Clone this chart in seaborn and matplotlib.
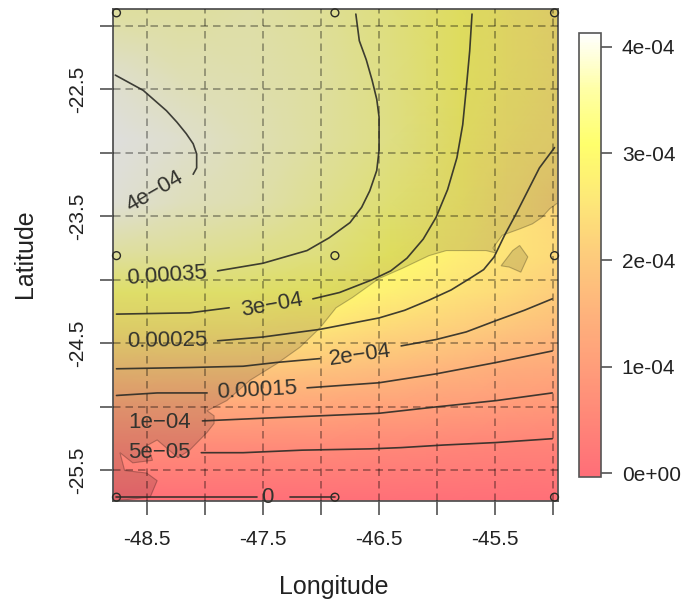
import numpy as np
import pandas as pd
import matplotlib
matplotlib.use('Agg')
import matplotlib.pyplot as plt
import seaborn as sns

# field, in units of 1e-5
lons = [-48.79, -48.2, -47.6, -47.0, -46.4, -45.8, -45.4, -44.96]
lats = [-21.87, -22.4, -22.9, -23.4, -23.8, -24.1, -24.4, -24.7, -25.0, -25.3, -25.74]
row_2187 = [37, 37, 37.5, 36.5, 34, 30.5, 28, 26]
row_2240 = [40, 38.5, 38, 37, 34.5, 30.5, 28, 26]
row_2290 = [41.5, 40, 38.5, 37, 34.7, 29.5, 27, 25.2]
row_2340 = [40.5, 39, 38, 36, 33, 28.5, 25.3, 22.5]
row_2380 = [37, 36.5, 35.5, 34, 30.7, 27, 25, 23]
row_2410 = [32, 32, 32, 30.5, 27.5, 24.5, 23, 20.7]
row_2440 = [26, 26, 25.7, 25, 22.5, 20.8, 19, 17]
row_2470 = [20, 20, 19.8, 18.5, 17, 15, 13.5, 12.6]
row_2500 = [12.5, 12.5, 12.3, 12, 11, 10, 9.3, 8.7]
row_2530 = [6.5, 6.5, 6.3, 6.2, 5.7, 5, 4.5, 4.3]
row_2574 = [0, 0, 0, 0, 0, 0, 0, 0]

field = np.array([row_2187, row_2240, row_2290, row_2340, row_2380, row_2410,
                  row_2440, row_2470, row_2500, row_2530, row_2574]) * 1e-5

# stations
station_lon = [-48.76, -46.88, -44.99] * 3
station_lat = [-21.9] * 3 + [-23.81] * 3 + [-25.71] * 3

# land outline
coast_lon = [-44.97, -45.03, -45.10, -45.18, -45.29, -45.44, -45.52, -45.49, -45.58, -45.92,
             -46.07, -46.30, -46.50, -46.73, -46.87, -47.01, -47.18, -47.38, -47.61, -47.81,
             -47.98, -47.92, -47.92, -47.98, -48.13, -48.23, -48.41, -48.53, -48.47, -48.45,
             -48.62, -48.73, -48.69, -48.50, -48.41, -48.47, -48.79, -48.79, -44.96, -44.96]
coast_lat = [-23.40, -23.44, -23.51, -23.56, -23.60, -23.65, -23.75, -23.79, -23.77, -23.77,
             -23.81, -23.91, -23.99, -24.14, -24.22, -24.38, -24.53, -24.66, -24.79, -24.95,
             -25.03, -25.07, -25.13, -25.20, -25.34, -25.40, -25.26, -25.32, -25.36, -25.42,
             -25.44, -25.36, -25.50, -25.52, -25.58, -25.71, -25.74, -21.87, -21.87, -23.40]
island_lon = [-45.45, -45.35, -45.29, -45.22, -45.28, -45.38]
island_lat = [-23.89, -23.77, -23.73, -23.82, -23.94, -23.90]

# contour lines, split where a label sits
lines = [
    ([-48.76, -47.55], [-25.71, -25.71]),
    ([-47.27, -46.88], [-25.71, -25.71]),
    ([-48.03, -47.67, -47.16, -46.58, -46.31, -45.95, -45.49, -45.01],
     [-25.36, -25.36, -25.34, -25.33, -25.32, -25.30, -25.28, -25.25]),
    ([-48.02, -47.53, -47.01, -46.50, -46.01, -45.49, -45.01],
     [-25.11, -25.09, -25.07, -25.05, -25.00, -24.95, -24.89]),
    ([-48.76, -48.41, -47.98], [-24.91, -24.89, -24.89]),
    ([-47.12, -46.50, -46.01, -45.49, -45.01], [-24.85, -24.81, -24.74, -24.65, -24.56]),
    ([-48.76, -48.13, -47.67, -47.38, -47.01], [-24.70, -24.69, -24.68, -24.65, -24.62]),
    ([-46.31, -46.01, -45.75, -45.49, -45.25, -45.01], [-24.52, -24.47, -24.41, -24.32, -24.24, -24.15]),
    ([-47.89, -47.50, -47.01, -46.50, -46.28, -46.07, -45.88, -45.72, -45.60, -45.51, -45.42, -45.32, -45.22, -45.12, -44.99],
     [-24.48, -24.45, -24.39, -24.30, -24.24, -24.16, -24.08, -23.99, -23.92, -23.82, -23.65, -23.48, -23.30, -23.12, -22.96]),
    ([-48.76, -48.13, -47.79], [-24.27, -24.26, -24.22]),
    ([-47.07, -46.84, -46.56, -46.40, -46.26, -46.12, -46.01, -45.91, -45.83, -45.78, -45.75, -45.72, -45.70],
     [-24.15, -24.10, -24.00, -23.93, -23.83, -23.68, -23.51, -23.29, -23.04, -22.78, -22.50, -22.20, -21.91]),
    ([-47.89, -47.50, -47.12, -46.93, -46.75, -46.65, -46.58, -46.52, -46.50, -46.50, -46.52, -46.56, -46.61, -46.67, -46.70],
     [-23.93, -23.87, -23.77, -23.67, -23.55, -23.43, -23.30, -23.14, -22.98, -22.72, -22.58, -22.43, -22.27, -22.12, -21.91]),
    ([-48.77, -48.65, -48.53, -48.43, -48.33, -48.24, -48.16, -48.10, -48.07, -48.07, -48.10],
     [-22.39, -22.45, -22.51, -22.59, -22.67, -22.76, -22.85, -22.93, -23.01, -23.12, -23.17]),
]

label_text = ['4e\u221204', '0.00035', '3e\u221204', '0.00025', '2e\u221204',
              '0.00015', '1e\u221204', '5e\u221205', '0']
label_lon = [-48.43, -48.33, -47.42, -48.32, -46.66, -47.55, -48.39, -48.39, -47.46]
label_lat = [-23.31, -23.97, -24.20, -24.48, -24.59, -24.87, -25.12, -25.36, -25.71]
label_rot = [30, 4, 10, 1, 8, 3, 0, 0, 0]

grid_x = [-48.5, -48, -47.5, -47, -46.5, -46, -45.5, -45]
grid_y = [-22, -22.5, -23, -23.5, -24, -24.5, -25, -25.5]
xtick_labels = ['-48.5', '', '-47.5', '', '-46.5', '', '-45.5', '']
ytick_labels = ['', '-22.5', '', '-23.5', '', '-24.5', '', '-25.5']
bar_ticks = [0, 1e-4, 2e-4, 3e-4, 4e-4]
bar_labels = ['0e+00', '1e-04', '2e-04', '3e-04', '4e-04']

sns.set_style('ticks')
plt.rcParams['font.family'] = ['Liberation Sans', 'DejaVu Sans']
plt.rcParams['axes.unicode_minus'] = False

# one colour every 0.52e-4 or so, yellow lands on 3e-4
bar_colors = ['#ff6e78', '#ff8678', '#ff9e7a', '#feb47c', '#fdcc7c', '#fde878', '#ffff6c', '#ffffa6', '#ffffff']
cmap = sns.blend_palette(bar_colors, as_cmap=True, n_colors=256)

fig = plt.figure(figsize=(6.85, 6.03), dpi=100)
ax = fig.add_axes([113 / 685, 1 - 501 / 603, 445 / 685, 492 / 603])
cax = fig.add_axes([579 / 685, 1 - 476.5 / 603, 22 / 685, 443.5 / 603])

mesh = ax.pcolormesh(lons, lats, field, cmap=cmap, vmin=-3e-6, vmax=4.13e-4,
                     shading='gouraud', zorder=1)

# land drawn as a dark see-through layer
ax.fill(coast_lon, coast_lat, facecolor=(0, 0, 0, 0.13), edgecolor=(0, 0, 0, 0.25), lw=0.8, zorder=2)
ax.fill(island_lon, island_lat, facecolor=(0, 0, 0, 0.13), edgecolor=(0, 0, 0, 0.25), lw=0.8, zorder=2)

for x in grid_x:
    ax.axvline(x, color='black', alpha=0.38, lw=1.2, ls=(0, (4.5, 3)), zorder=3)
for y in grid_y:
    ax.axhline(y, color='black', alpha=0.38, lw=1.2, ls=(0, (4.5, 3)), zorder=3)

for line_lon, line_lat in lines:
    df = pd.DataFrame({'lon': line_lon, 'lat': line_lat})
    sns.lineplot(data=df, x='lon', y='lat', sort=False, estimator=None, color='#2b2b26',
                 lw=1.2, alpha=0.9, ax=ax, zorder=4)

for txt, x, y, rot in zip(label_text, label_lon, label_lat, label_rot):
    ax.text(x, y, txt, fontsize=16, color='#33332e', rotation=rot, ha='center', va='center', zorder=5)

sns.scatterplot(x=station_lon, y=station_lat, s=32, facecolor='none', edgecolor='#2b2b26',
                linewidth=1.0, ax=ax, zorder=6, clip_on=False)

ax.set_xlim(-48.79, -44.96)
ax.set_ylim(-25.74, -21.87)
ax.set_xticks(grid_x)
ax.set_xticklabels(xtick_labels)
ax.set_yticks(grid_y)
ax.set_yticklabels(ytick_labels, rotation=90, va='center')
ax.tick_params(axis='x', length=10, width=1.1, color='#444444', pad=11, labelsize=15, labelcolor='#222222')
ax.tick_params(axis='y', length=9.5, width=1.1, color='#444444', pad=9, labelsize=15, labelcolor='#222222')
for side in ax.spines.values():
    side.set_visible(True)
    side.set_color('#555555')
    side.set_linewidth(1.3)
ax.set_xlabel('')
ax.set_ylabel('')
fig.text(334 / 685, 1 - 587 / 603, 'Longitude', fontsize=18, color='#222222', ha='center', va='center')
fig.text(25 / 685, 1 - 254 / 603, 'Latitude', fontsize=18, color='#222222', rotation=90, ha='center', va='center')

cbar = fig.colorbar(mesh, cax=cax)
cbar.set_ticks(bar_ticks)
cbar.set_ticklabels(bar_labels)
cbar.ax.tick_params(length=8, width=1.1, color='#444444', pad=7, labelsize=15, labelcolor='#222222')
cbar.outline.set_edgecolor('#555555')
cbar.outline.set_linewidth(1.2)

fig.savefig('out.png', dpi=100)
